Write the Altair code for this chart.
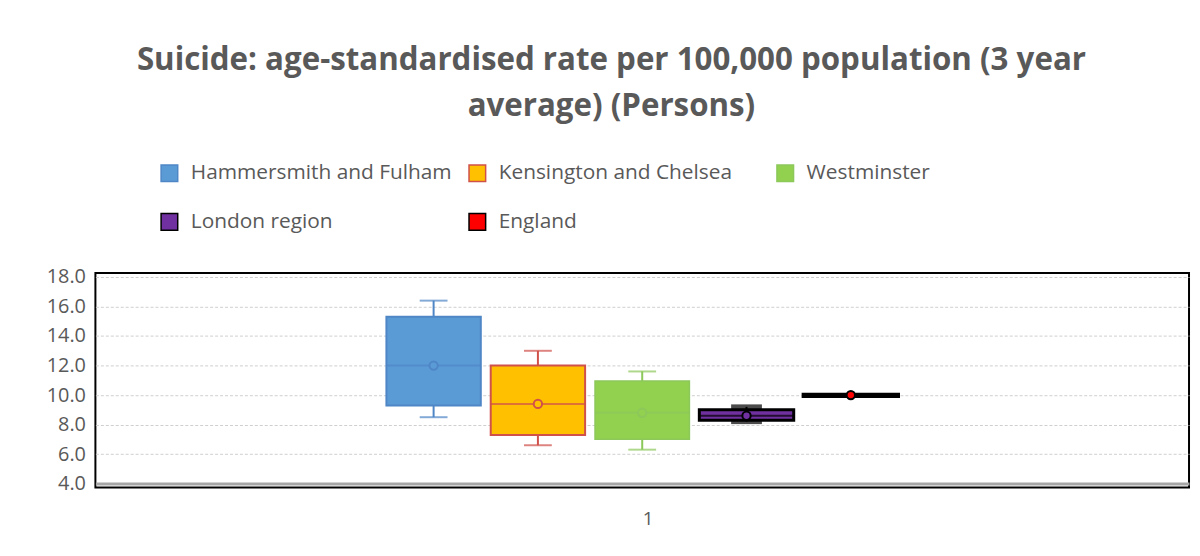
import altair as alt
import pandas as pd

series = ["Hammersmith and Fulham", "Kensington and Chelsea", "Westminster", "London region", "England"]
category = ["1", "1", "1", "1", "1"]
lower_whisker = [8.5, 6.6, 6.3, 8.2, 9.9]
q1 = [9.3, 7.3, 7.0, 8.3, 9.93]
median = [12.0, 9.4, 8.8, 8.6, 10.0]
q3 = [15.3, 12.0, 10.95, 9.0, 10.02]
upper_whisker = [16.4, 13.0, 11.6, 9.2, 10.05]
mean = [12.0, 9.4, 8.8, 8.6, 10.0]

fills = ["#5B9BD5", "#FFC000", "#92D050", "#7030A0", "#FF0000"]
strokes = ["#4F86C6", "#D0504A", "#8CC85A", "#000000", "#000000"]
box_sw = [2, 2, 1.5, 3, 4]
cap_sw = [0, 0, 0, 3, 0]

df = pd.DataFrame({
    "series": series, "cat": category, "lo": lower_whisker, "q1": q1,
    "med": median, "q3": q3, "hi": upper_whisker, "mean": mean,
    "sw": box_sw, "csw": cap_sw, "line": strokes,
})

# empty slots either side of the five boxes within the single category band
offset_domain = ["_a", "_b"] + series + ["_c", "_d"]

FONT = "Open Sans"
GREY = "#595959"

stroke_expr = " : ".join(
    f"datum.label === '{s}' ? '{c}'" for s, c in zip(series[:-1], strokes[:-1])
) + f" : '{strokes[-1]}'"

legend = alt.Legend(
    title=None, orient="none", legendX=64, legendY=-111, columns=3,
    gridAlign="all", columnPadding=14, rowPadding=26, symbolType="square",
    symbolSize=280, symbolStrokeWidth=1.5, symbolOpacity=1, labelFont=FONT, labelFontSize=21,
    labelColor=GREY, labelOffset=11, direction="horizontal", labelLimit=400,
    symbolStrokeColor=alt.ExprRef(stroke_expr),
)

fill_enc = alt.Fill("series:N", scale=alt.Scale(domain=series, range=fills), legend=legend, sort=series)
stroke_enc = alt.Stroke("line:N", scale=None)
color_enc = alt.Color("line:N", scale=None)

x_enc = alt.X("cat:N", title=None,
              scale=alt.Scale(paddingInner=0, paddingOuter=0),
              axis=alt.Axis(labelAngle=0, labelFont=FONT, labelFontSize=19, labelColor=GREY,
                            labelPadding=22, labelOffset=6, ticks=False, domain=False, grid=False))
xo_enc = alt.XOffset("series:N",
                     scale=alt.Scale(domain=offset_domain, paddingInner=0.095, paddingOuter=0.79))

y_axis = alt.Axis(values=[4, 6, 8, 10, 12, 14, 16, 18], format=".1f", ticks=False, domain=False,
                  labelFont=FONT, labelFontSize=20, labelColor=GREY, labelPadding=10,
                  labelOverlap=False,
                  gridColor={"condition": {"test": "datum.value === 4", "value": "#a6a6a6"}, "value": "#cfcfcf"},
                  gridWidth={"condition": {"test": "datum.value === 4", "value": 3}, "value": 1},
                  gridDash={"condition": {"test": "datum.value === 4", "value": []}, "value": [3, 2]},
                  title=None)
y_scale = alt.Scale(domain=[3.73, 18.27], nice=False, zero=False)


def Y(field):
    return alt.Y(field, scale=y_scale, axis=y_axis, title=None)


base = alt.Chart(df).encode(x=x_enc, xOffset=xo_enc)

whisker = base.mark_rule(strokeWidth=2).encode(y=Y("lo:Q"), y2="hi:Q", stroke=stroke_enc)
cap_lo = base.mark_tick(size=28, thickness=2).encode(
    y=Y("lo:Q"), color=color_enc, stroke=stroke_enc,
    strokeWidth=alt.StrokeWidth("csw:Q", scale=None))
cap_hi = base.mark_tick(size=28, thickness=2).encode(
    y=Y("hi:Q"), color=color_enc, stroke=stroke_enc,
    strokeWidth=alt.StrokeWidth("csw:Q", scale=None))
box = base.mark_bar(opacity=1).encode(
    y=Y("q1:Q"), y2="q3:Q", fill=fill_enc, stroke=stroke_enc,
    strokeWidth=alt.StrokeWidth("sw:Q", scale=None))
med = base.mark_tick(size=95, thickness=2).encode(y=Y("med:Q"), color=color_enc)
mean_pt = base.mark_point(filled=True, size=70, strokeWidth=2, opacity=1).encode(
    y=Y("mean:Q"), fill=fill_enc, stroke=stroke_enc)

chart = alt.layer(whisker, cap_lo, cap_hi, box, med, mean_pt).properties(
    width=1101, height=216,
    background="white",
    autosize=alt.AutoSizeParams(type="none"),
    padding={"left": 88, "top": 265, "right": 3, "bottom": 59},
    title=alt.TitleParams(
        text=["Suicide: age-standardised rate per 100,000 population (3 year", "average) (Persons)"],
        font=FONT, fontSize=31.5, fontWeight="bold", color=GREY, anchor="middle",
        dx=-31, offset=41, lineHeight=46),
).configure_view(stroke="#000000", strokeWidth=2)

chart.save("out.html", embed_options={"renderer": "svg", "actions": False})
